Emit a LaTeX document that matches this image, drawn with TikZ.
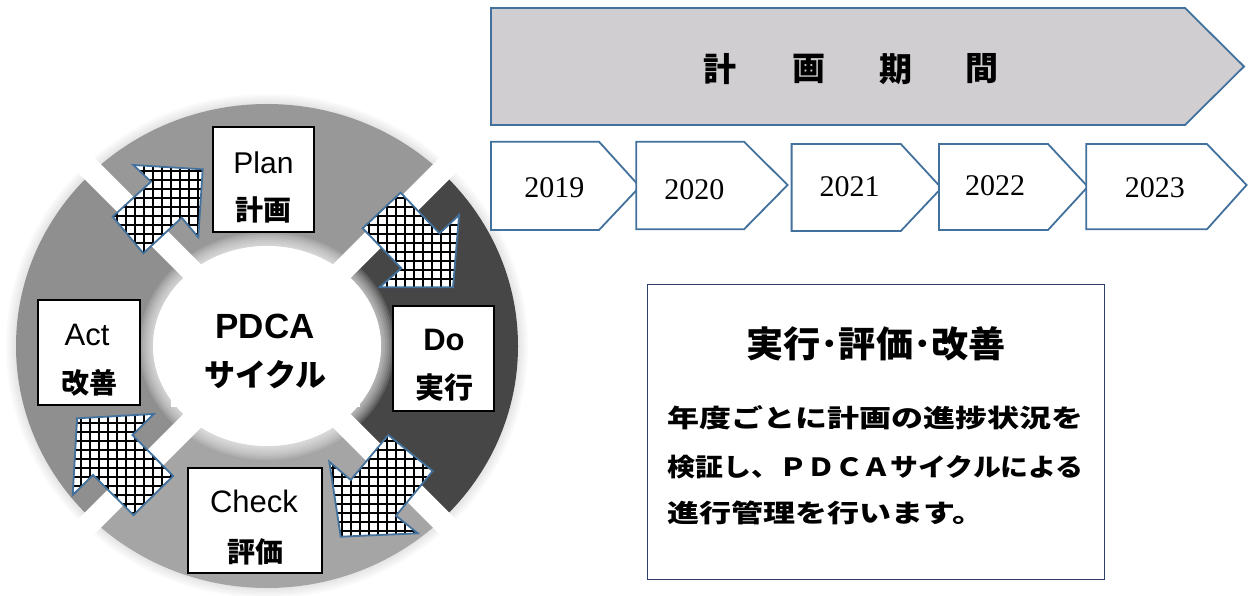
\documentclass[tikz,border=0pt]{standalone}
\usepackage{fontspec}
\usepackage{graphicx}
\newfontfamily\jp{Noto Sans CJK JP}
\newfontfamily\ar{Liberation Sans}
\newfontfamily\tm{Liberation Serif}
\definecolor{edgeblue}{RGB}{65,113,156}
\definecolor{chevgray}{RGB}{208,206,208}
\definecolor{segtop}{RGB}{152,152,152}
\definecolor{segleft}{RGB}{143,143,143}
\definecolor{segbot}{RGB}{165,165,165}
\definecolor{segright}{RGB}{70,70,70}
\definecolor{navy}{RGB}{47,62,105}
\newcommand\hatcharrow[3]{%
  \begin{scope}
    \clip #1 -- cycle;
    \fill[white] (#2) rectangle (#3);
    \draw[gridline] (#2) grid (#3);
  \end{scope}
  \draw[arrowedge] #1 -- cycle;
}
\begin{document}
\begin{tikzpicture}[x=1pt,y=-1pt,
  box/.style={draw=black, line width=1.4pt, fill=white, inner sep=0pt},
  chev/.style={draw=edgeblue, line width=1.8pt, line join=miter},
  gridline/.style={black, line width=1.8pt, step=9pt},
  arrowedge/.style={draw=edgeblue, line width=1.8pt, line join=miter},
  gapline/.style={white, line width=22pt},
  lbl/.style={inner sep=0pt, anchor=center},
  yr/.style={inner sep=0pt, font=\fontsize{30}{30}\tm},
  title/.style={inner sep=0pt, font=\fontsize{33}{33}\jp\bfseries},
  body/.style={inner sep=0pt, anchor=west}]
\useasboundingbox (0,0) rectangle (1258,596);
\fill[white] (0,0) rectangle (1258,596);

% ---------- ring ----------
\coordinate (c) at (267,346);
\foreach \d in {2,4,...,10} \fill[black, opacity=0.02] (c) ellipse ({251+\d} and {242+\d});
\begin{scope}
  \clip (c) -- ++(-400,-400) -- ++(800,0) -- cycle;
  \fill[segtop, even odd rule] (c) ellipse (251 and 242) (c) ellipse (114 and 100);
\end{scope}
\begin{scope}
  \clip (c) -- ++(400,-400) -- ++(0,800) -- cycle;
  \fill[segright, even odd rule] (c) ellipse (251 and 242) (c) ellipse (114 and 100);
\end{scope}
\begin{scope}
  \clip (c) -- ++(400,400) -- ++(-800,0) -- cycle;
  \fill[segbot, even odd rule] (c) ellipse (251 and 242) (c) ellipse (114 and 100);
\end{scope}
\begin{scope}
  \clip (c) -- ++(-400,400) -- ++(0,-800) -- cycle;
  \fill[segleft, even odd rule] (c) ellipse (251 and 242) (c) ellipse (114 and 100);
\end{scope}
\draw[gapline] (c) ++(-262,-262) -- ++(524,524);
\draw[gapline] (c) ++(262,-262) -- ++(-524,524);
\fill[white] (c) ellipse (114 and 100);
\foreach \d in {2,4,...,14} \fill[white, opacity=0.12] (c) ellipse ({114+\d} and {100+\d});

% ---------- centre ----------
\node[fill=white, inner sep=0pt, minimum width=189, minimum height=114] (ctr) at (265.3,350) {};
\node[lbl, font=\fontsize{35}{35}\ar\bfseries] (pdca) at (265,326.7) {PDCA};
\node[lbl, font=\fontsize{31}{31}\jp\bfseries] (cycle) at (265.5,375) {サイクル};

% ---------- boxes ----------
\node[box, minimum width=101, minimum height=105] (plan) at (263.5,179.5) {};
\node[box, minimum width=102, minimum height=105] (act) at (89,352.5) {};
\node[box, minimum width=101, minimum height=105] (do) at (443.5,358.5) {};
\node[box, minimum width=134, minimum height=105] (check) at (255,520.5) {};

\node[lbl, font=\fontsize{30}{30}\ar] (planA) at (263.5,162.5) {Plan};
\node[lbl, font=\fontsize{28}{28}\jp\bfseries] (planB) at (263.5,209.5) {計画};
\node[lbl, font=\fontsize{31}{31}\ar] (actA) at (87,334.5) {Act};
\node[lbl, font=\fontsize{28}{28}\jp\bfseries] (actB) at (89.5,383) {改善};
\node[lbl, font=\fontsize{31}{31}\ar\bfseries] (doA) at (444,340) {Do};
\node[lbl, font=\fontsize{29}{29}\jp\bfseries] (doB) at (444,387.5) {実行};
\node[lbl, font=\fontsize{31}{31}\ar] (checkA) at (254,501) {Check};
\node[lbl, font=\fontsize{28}{28}\jp\bfseries] (checkB) at (255,551.7) {評価};

% ---------- hatched block arrows ----------
\hatcharrow{(133.3,165) -- (202.7,169.3) -- (198.3,237.3) -- (181.7,217.7) -- (143.3,253.3) -- (112.7,216.7) -- (151,181.7)}{105,160}{210,260}
\hatcharrow{(400.6,192.7) -- (439.5,233.3) -- (459.1,215) -- (453,287.3) -- (379.6,287.3) -- (401.3,268.3) -- (362.7,228.3)}{355,185}{465,295}
\hatcharrow{(329.3,461.7) -- (350.7,480) -- (388.3,435) -- (432.7,471) -- (396,515.7) -- (417.7,533.3) -- (340.7,536.7)}{325,430}{440,540}
\hatcharrow{(77.1,418.3) -- (153.8,414) -- (132.5,435) -- (173.1,476) -- (133.5,515) -- (93,475) -- (72.7,495)}{68,410}{180,520}

% ---------- plan period ----------
\draw[chev, fill=chevgray] (491,8) -- (1185,8) -- (1244,66.5) -- (1185,125) -- (491,125) -- cycle;
\node[title] (t1) at (720,69) {計};
\node[title] (t2) at (808.7,69) {画};
\node[title] (t3) at (895.5,69) {期};
\node[title] (t4) at (982.4,69) {間};

\draw[chev, fill=white] (491,141.7) -- (599,141.7) -- (639.8,186.7) -- (599,230) -- (491,230) -- cycle;
\draw[chev, fill=white] (636.3,141.7) -- (744,141.7) -- (787.6,185) -- (744,229.3) -- (636.3,229.3) -- cycle;
\draw[chev, fill=white] (791.6,144) -- (900.8,144) -- (941.4,188) -- (900.8,231) -- (791.6,231) -- cycle;
\draw[chev, fill=white] (939,144) -- (1048,144) -- (1087.8,186.7) -- (1048,230) -- (939,230) -- cycle;
\draw[chev, fill=white] (1086.3,144) -- (1206.9,144) -- (1246.6,185) -- (1206.9,229.3) -- (1086.3,229.3) -- cycle;
\node[yr] (y19) at (554.4,188) {2019};
\node[yr] (y20) at (694.3,190) {2020};
\node[yr] (y21) at (849.7,186.7) {2021};
\node[yr] (y22) at (995,186) {2022};
\node[yr] (y23) at (1154.8,188) {2023};

% ---------- text box ----------
\node[draw=navy, line width=1.3pt, inner sep=0pt, minimum width=457, minimum height=295] (tb) at (875.8,431.65) {};
\node[lbl] (tbt) at (876,344) {\resizebox{260pt}{\height}{\fontsize{36}{36}\jp\bfseries 実行･評価･改善}};
\node[body] (l1) at (667.5,418) {\resizebox{416pt}{\height}{\fontsize{25}{25}\jp\bfseries 年度ごとに計画の進捗状況を}};
\node[body] (l2) at (667.5,467.5) {\resizebox{416pt}{\height}{\fontsize{25}{25}\jp\bfseries 検証し、ＰＤＣＡサイクルによる}};
\node[body] (l3) at (667.5,513) {\scalebox{1.28}[1]{\fontsize{25}{25}\jp\bfseries 進行管理を行います。}};
\end{tikzpicture}
\end{document}
